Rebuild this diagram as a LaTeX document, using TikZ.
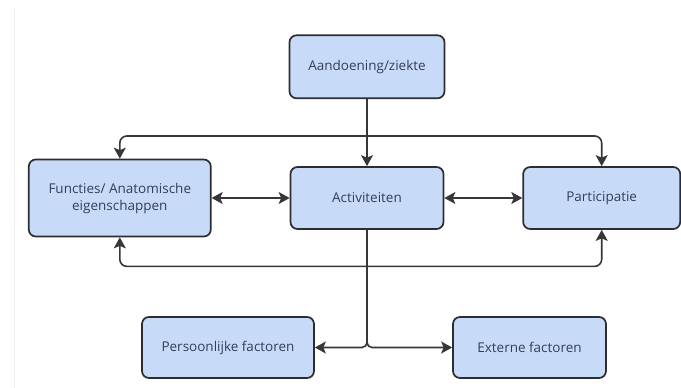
\documentclass[tikz,border=0pt]{standalone}
\usepackage{fontspec}
\setmainfont{Open Sans}
\usepackage{tikz}
\usetikzlibrary{positioning,arrows.meta,calc}
\definecolor{boxfill}{RGB}{199,219,248}
\definecolor{boxline}{RGB}{45,45,48}
\definecolor{boxtext}{RGB}{50,62,90}
\definecolor{wireline}{RGB}{55,55,58}

\begin{document}
\begin{tikzpicture}[
  x=1pt,y=1pt,
  font=\fontsize{13.5}{17}\selectfont,
  box/.style={draw=boxline,line width=1.7pt,rounded corners=7pt,fill=boxfill,text=boxtext,align=center,inner sep=0pt},
  ar/.style={-{Stealth[length=11pt,width=12pt,inset=2.5pt]},wireline,line width=1.6pt},
  dar/.style={{Stealth[length=11pt,width=12pt,inset=2.5pt]}-{Stealth[length=11pt,width=12pt,inset=2.5pt]},wireline,line width=1.6pt},
]
\useasboundingbox (0,0) rectangle (681,-388);
\draw[black!5,line width=1pt] (14,-8) -- (14,-388);
\node[box,minimum width=153pt,minimum height=62pt] (act) at (367,-198) {Activiteiten};
\node[box,minimum width=155pt,minimum height=63pt,above=67pt of act] (aand) {Aandoening/ziekte};
\node[box,minimum width=182pt,minimum height=77pt,left=78pt of act] (func) {Functies/ Anatomische\\eigenschappen};
\node[box,minimum width=157pt,minimum height=62pt,right=78pt of act] (part) {Participatie};
\node[box,minimum width=172pt,minimum height=61pt] (pers) at (228,-347.5) {Persoonlijke factoren};
\node[box,minimum width=153pt,minimum height=61pt] (ext) at (529.5,-347.5) {Externe factoren};
% top branch
\coordinate (split) at ($(aand.south)!0.55!(act.north)$);
\draw[ar] (aand) -- (act);
\draw[ar,rounded corners=7pt] (split) -| (func.north);
\draw[ar,rounded corners=7pt] (split) -| (part.north);
\draw[dar] (func) -- (act);
\draw[dar] (act) -- (part);
% bottom loop
\draw[dar,rounded corners=7pt] (func.south) -- ++(0,-29) -| (part.south);
\draw[ar,rounded corners=5pt] (act.south) |- (pers.east);
\draw[ar,rounded corners=5pt] (act.south) |- (ext.west);
\end{tikzpicture}
\end{document}
